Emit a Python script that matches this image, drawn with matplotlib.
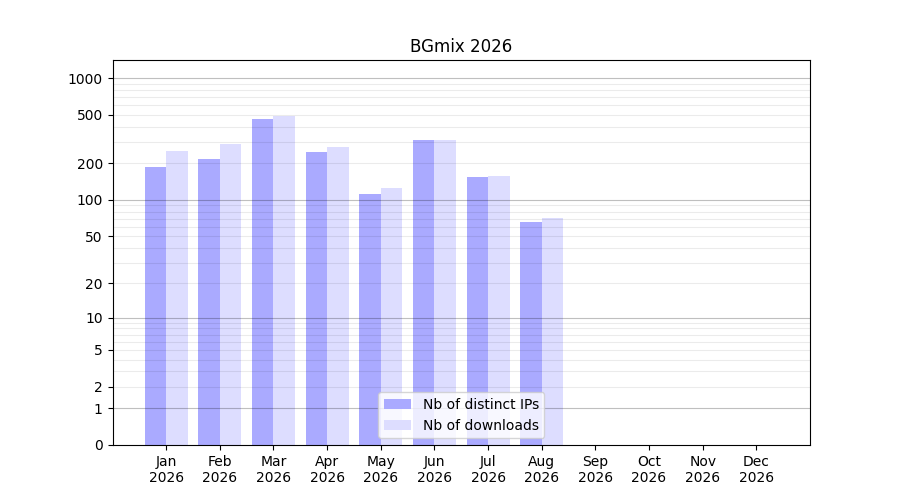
import numpy as np
import matplotlib
matplotlib.use("Agg")
import matplotlib.pyplot as plt

months = ["Jan\n2026", "Feb\n2026", "Mar\n2026", "Apr\n2026", "May\n2026", "Jun\n2026",
          "Jul\n2026", "Aug\n2026", "Sep\n2026", "Oct\n2026", "Nov\n2026", "Dec\n2026"]
distinct_ips = [187, 217, 462, 248, 112, 311, 154, 66, 0, 0, 0, 0]
downloads = [253, 289, 489, 272, 125, 311, 157, 71, 0, 0, 0, 0]
ytick_vals = [0, 1, 2, 5, 10, 20, 50, 100, 200, 500, 1000]

def fwd(y):
    return np.log10(1 + np.clip(y, 0, None))

def inv(y):
    return 10 ** y - 1

fig, ax = plt.subplots(figsize=(9, 5), dpi=100)
ax.set_yscale("function", functions=(fwd, inv))

x = np.arange(len(months))
w = 0.4
ax.bar(x - w / 2, distinct_ips, width=w, color="#aaaaff", label="Nb of distinct IPs", zorder=1)
ax.bar(x + w / 2, downloads, width=w, color="#ddddff", label="Nb of downloads", zorder=1)

ax.set_xlim(-1, len(months))
ax.set_ylim(0, 1405)
ax.set_xticks(x)
ax.set_xticklabels(months)
ax.set_yticks(ytick_vals)
ax.set_yticklabels([str(v) for v in ytick_vals])

minor = [k * 10 ** n for n in range(0, 3) for k in range(2, 10)]
ax.set_yticks(minor, minor=True)
ax.tick_params(axis="y", which="minor", length=0)
ax.grid(False)
for m in minor:
    ax.axhline(m, color="black", alpha=0.08, linewidth=0.8, zorder=2)
for d in [1, 10, 100, 1000]:
    ax.axhline(d, color="black", alpha=0.25, linewidth=0.8, zorder=2)

ax.set_title("BGmix 2026")
ax.legend(loc="lower center")
fig.savefig("out.png", dpi=100)
